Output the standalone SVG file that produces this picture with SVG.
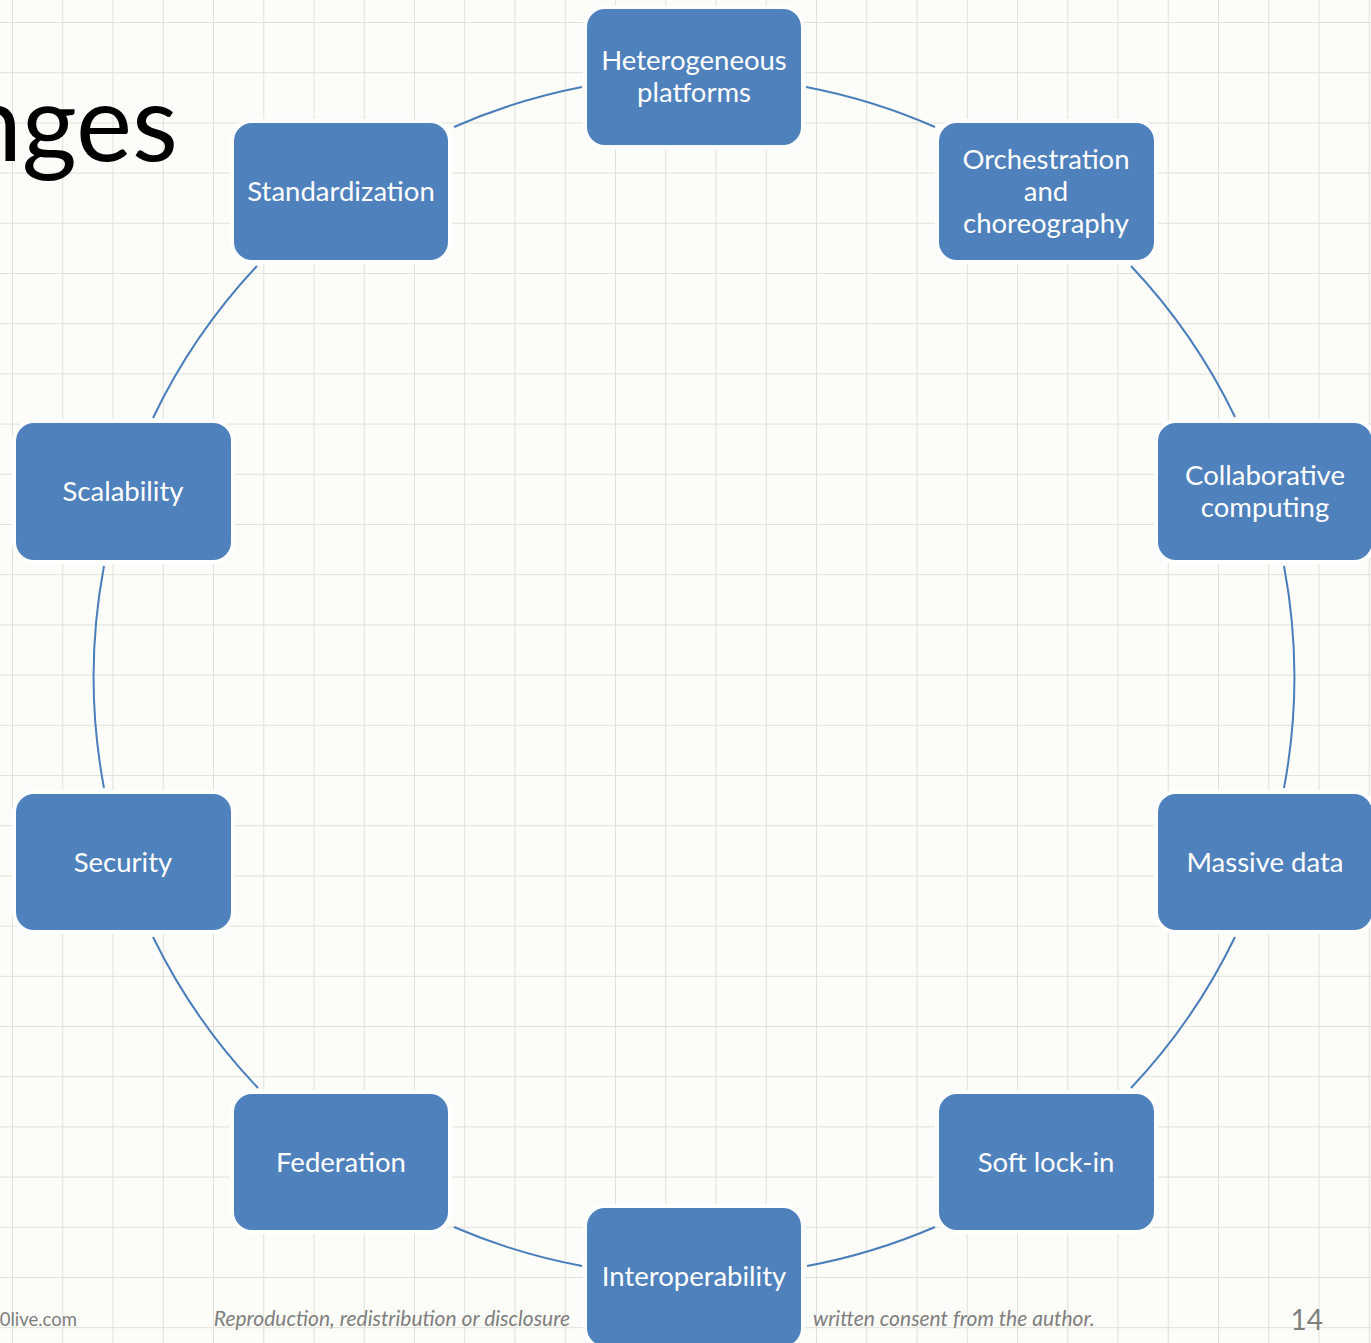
<svg xmlns="http://www.w3.org/2000/svg" width="1371" height="1343" viewBox="0 0 1371 1343">
  <defs>
    <pattern id="grid" patternUnits="userSpaceOnUse" x="12" y="22" width="50.25" height="50.2">
      <path d="M0 0 V50.2 M0 0 H50.25" fill="none" stroke="#e1e1db" stroke-width="2"/>
    </pattern>
    <style>
      .node rect { fill: #4f81bd; stroke: #ffffff; stroke-width: 4; }
      .node text { fill: #ffffff; font-family: Lato, "Liberation Sans", sans-serif; font-size: 27.5px; text-anchor: middle; }
      .conn path { fill: none; stroke: #4a7ebb; stroke-width: 2; }
      .foot { fill: #7f7f7f; font-family: Lato, "Liberation Sans", sans-serif; font-size: 21px; }
      .foot.site { font-size: 18.5px; }
      .foot.page { font-size: 28px; }
    </style>
  </defs>

  <!-- slide background -->
  <rect x="0" y="0" width="1371" height="1343" fill="#fcfcf8"/>
  <rect x="0" y="0" width="1371" height="1343" fill="url(#grid)"/>

  <!-- title, running off the left edge -->
  <text x="178" y="161" text-anchor="end" font-family="Lato, 'Liberation Sans', sans-serif" font-size="106" fill="#000000">nges</text>

  <!-- footer -->
  <text class="foot site" x="77" y="1326" text-anchor="end">0live.com</text>
  <text class="foot" x="570" y="1326" text-anchor="end" font-style="italic">Reproduction, redistribution or disclosure</text>
  <text class="foot" x="813" y="1326" font-style="italic">written consent from the author.</text>
  <text class="foot page" x="1323" y="1330" text-anchor="end">14</text>

  <!-- arcs of the ring (center 694,677, r 600) -->
  <g id="connectors" class="conn">
    <path d="M806 87 A600 600 0 0 1 935 127"/>
    <path d="M1131 266 A600 600 0 0 1 1235 417"/>
    <path d="M1284 566 A600 600 0 0 1 1284 788"/>
    <path d="M1235 937 A600 600 0 0 1 1131 1088"/>
    <path d="M935 1227 A600 600 0 0 1 807 1266"/>
    <path d="M582 1266 A600 600 0 0 1 454 1227"/>
    <path d="M258 1088 A600 600 0 0 1 153 937"/>
    <path d="M104 788 A600 600 0 0 1 104 566"/>
    <path d="M153 418 A600 600 0 0 1 257 266"/>
    <path d="M454 127 A600 600 0 0 1 582 87"/>
  </g>

  <g id="heterogeneous" class="node">
    <rect x="585" y="7" width="218" height="140" rx="20"/>
    <text x="694" y="70">Heterogeneous</text>
    <text x="694" y="102">platforms</text>
  </g>
  <g id="orchestration" class="node">
    <rect x="937" y="121" width="219" height="141" rx="20"/>
    <text x="1046" y="169">Orchestration</text>
    <text x="1046" y="201">and</text>
    <text x="1046" y="233">choreography</text>
  </g>
  <g id="collaborative" class="node">
    <rect x="1156" y="421" width="218" height="141" rx="20"/>
    <text x="1265" y="485">Collaborative</text>
    <text x="1265" y="517">computing</text>
  </g>
  <g id="massive-data" class="node">
    <rect x="1156" y="792" width="218" height="140" rx="20"/>
    <text x="1265" y="872">Massive data</text>
  </g>
  <g id="soft-lock-in" class="node">
    <rect x="937" y="1092" width="219" height="140" rx="20"/>
    <text x="1046" y="1172">Soft lock-in</text>
  </g>
  <g id="interoperability" class="node">
    <rect x="585" y="1206" width="218" height="142" rx="20"/>
    <text x="694" y="1286">Interoperability</text>
  </g>
  <g id="federation" class="node">
    <rect x="232" y="1092" width="218" height="140" rx="20"/>
    <text x="341" y="1172">Federation</text>
  </g>
  <g id="security" class="node">
    <rect x="14" y="792" width="219" height="140" rx="20"/>
    <text x="123" y="872">Security</text>
  </g>
  <g id="scalability" class="node">
    <rect x="14" y="421" width="219" height="141" rx="20"/>
    <text x="123" y="501">Scalability</text>
  </g>
  <g id="standardization" class="node">
    <rect x="232" y="121" width="218" height="141" rx="20"/>
    <text x="341" y="201">Standardization</text>
  </g>
</svg>
